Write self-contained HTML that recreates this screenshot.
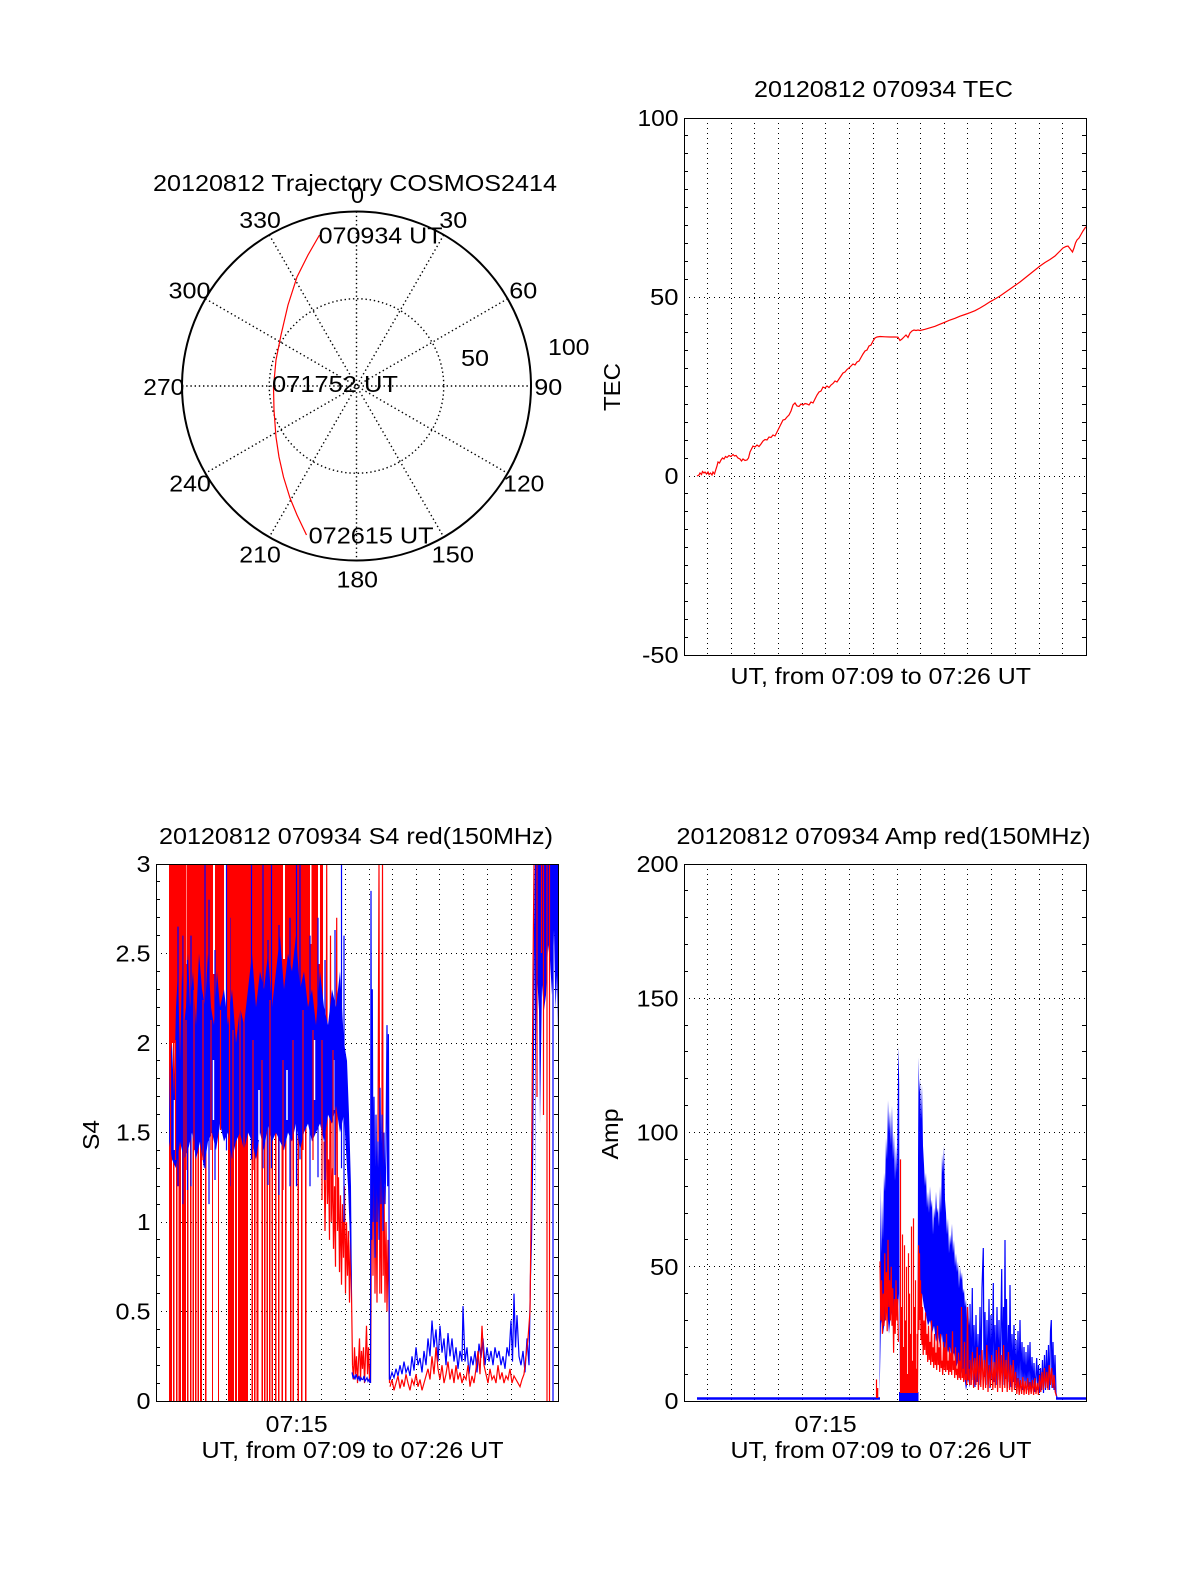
<!DOCTYPE html>
<html><head><meta charset="utf-8"><style>
html,body{margin:0;padding:0;background:#fff;}
svg{display:block}
text{font-family:"Liberation Sans",Arial,sans-serif;font-size:23px;fill:#000}
.g{stroke:#000;stroke-width:1;stroke-dasharray:1 4;fill:none}
.gp{stroke:#000;stroke-width:1.4;stroke-dasharray:1.4 2.8;fill:none}
.ax{stroke:#000;stroke-width:1;fill:none}
.r{stroke:#f00;fill:none;stroke-width:1.2;stroke-linejoin:miter}
.b{stroke:#00f;fill:none;stroke-width:1.2}
</style></head><body>
<svg width="1200" height="1575" viewBox="0 0 1200 1575" xmlns="http://www.w3.org/2000/svg">
<rect width="1200" height="1575" fill="#fff"/>
<defs>
<clipPath id="ct"><rect x="684" y="118" width="403" height="538"/></clipPath>
<clipPath id="cs"><rect x="156" y="864" width="403" height="538"/></clipPath>
<clipPath id="ca"><rect x="684" y="864" width="403" height="538"/></clipPath>
</defs>

<!-- ================= POLAR ================= -->
<text x="153" y="191" textLength="404" lengthAdjust="spacingAndGlyphs">20120812 Trajectory COSMOS2414</text>
<g class="gp">
<circle cx="356.5" cy="386" r="87.25"/>
<line x1="356.5" y1="211.5" x2="356.5" y2="560.5"/>
<line x1="182" y1="386" x2="531" y2="386"/>
<line x1="269.25" y1="234.9" x2="443.75" y2="537.1"/>
<line x1="443.75" y1="234.9" x2="269.25" y2="537.1"/>
<line x1="205.4" y1="298.75" x2="507.6" y2="473.25"/>
<line x1="507.6" y1="298.75" x2="205.4" y2="473.25"/>
</g>
<circle cx="356.5" cy="386" r="174.5" fill="none" stroke="#000" stroke-width="2"/>
<polyline class="r" stroke-width="1" points="319.5,235 308,255 297,277 288,305 281,335 276,360 273.5,387 274,410 276,437 279,457 283.5,477 290,498 297,515 306.5,535"/>
<text x="351" y="203" textLength="13" lengthAdjust="spacingAndGlyphs">0</text>
<text x="439.3" y="228" textLength="28" lengthAdjust="spacingAndGlyphs">30</text>
<text x="239.3" y="228" textLength="41.5" lengthAdjust="spacingAndGlyphs">330</text>
<text x="509.3" y="298.3" textLength="28" lengthAdjust="spacingAndGlyphs">60</text>
<text x="168.5" y="298.3" textLength="42" lengthAdjust="spacingAndGlyphs">300</text>
<text x="548" y="355" textLength="41.5" lengthAdjust="spacingAndGlyphs">100</text>
<text x="461" y="366" textLength="28" lengthAdjust="spacingAndGlyphs">50</text>
<text x="143.3" y="395" textLength="41" lengthAdjust="spacingAndGlyphs">270</text>
<text x="534.3" y="395" textLength="28" lengthAdjust="spacingAndGlyphs">90</text>
<text x="272" y="392" textLength="126" lengthAdjust="spacingAndGlyphs">071752 UT</text>
<text x="169.3" y="491.7" textLength="41.5" lengthAdjust="spacingAndGlyphs">240</text>
<text x="503.3" y="491.7" textLength="41" lengthAdjust="spacingAndGlyphs">120</text>
<text x="239.3" y="562.3" textLength="41.5" lengthAdjust="spacingAndGlyphs">210</text>
<text x="431.5" y="562.3" textLength="42.5" lengthAdjust="spacingAndGlyphs">150</text>
<text x="336.5" y="587.3" textLength="41.5" lengthAdjust="spacingAndGlyphs">180</text>
<text x="318.6" y="243.3" textLength="124" lengthAdjust="spacingAndGlyphs">070934 UT</text>
<text x="308.6" y="543.3" textLength="125" lengthAdjust="spacingAndGlyphs">072615 UT</text>

<!-- ================= TEC ================= -->
<text x="754" y="97" textLength="259" lengthAdjust="spacingAndGlyphs">20120812 070934 TEC</text>
<g class="g">
<path d="M707.5 118V655M731.5 118V655M754.5 118V655M778.5 118V655M802.5 118V655M825.5 118V655M849.5 118V655M873.5 118V655M897.5 118V655M920.5 118V655M944.5 118V655M967.5 118V655M991.5 118V655M1015.5 118V655M1039.5 118V655M1062.5 118V655"/>
<path d="M684 297.5H1086M684 476.5H1086"/>
</g>
<path class="ax" d="M684 135.5h4M684 153.5h4M684 171.5h4M684 189.5h4M684 207.5h4M684 225.5h4M684 243.5h4M684 261.5h4M684 279.5h4M684 314.5h4M684 332.5h4M684 350.5h4M684 368.5h4M684 386.5h4M684 404.5h4M684 422.5h4M684 440.5h4M684 458.5h4M684 493.5h4M684 511.5h4M684 529.5h4M684 547.5h4M684 565.5h4M684 583.5h4M684 601.5h4M684 619.5h4M684 637.5h4
M1082 135.5h4M1082 153.5h4M1082 171.5h4M1082 189.5h4M1082 207.5h4M1082 225.5h4M1082 243.5h4M1082 261.5h4M1082 279.5h4M1082 314.5h4M1082 332.5h4M1082 350.5h4M1082 368.5h4M1082 386.5h4M1082 404.5h4M1082 422.5h4M1082 440.5h4M1082 458.5h4M1082 493.5h4M1082 511.5h4M1082 529.5h4M1082 547.5h4M1082 565.5h4M1082 583.5h4M1082 601.5h4M1082 619.5h4M1082 637.5h4"/>
<g clip-path="url(#ct)">
<polyline class="r" stroke-width="1.2" points="697,476 699,475 700,473 701.5,474.5 702.5,471.5 704,473 705,472 706.5,474 708,472 709,474.5 710.5,473 712,475 713,472 714.5,474 716,469 717,466 718,462 719.5,463 721,460 722.5,458 724,459 725.5,456.5 727,457.5 729,455.5 731,456.5 733,454.5 734.5,456 736,455.5 738,458 740,459 741.5,461 743,459 745,460.5 747,460 748.5,458 750,452 751.5,449 753,446 755,447 757,445 759,446.5 761,444 763,441 765,439.5 767,440 769,437 771,437.5 773,435 775,436 777,432 779,428 781,424 783,420 785,419.5 787,417 789,415 791,411 793,405 795,403 797,406 799,406.5 801,404 803,405 805,403.5 807,404 809,405 811,402 813,403 815,399 817,395 819,392 821,391 823,387 825,388 827,386 829,387.5 831,385 833,383.5 835,381 837,382 839,379 841,376 843,373 845,372 847,369.5 849,368 851,366 853,364 855,365 857,362 859,361 861,357.5 863,354 865,351 867,350 869,346 871,345 873,341 875,338 877,337 880,336.5 885,336.8 890,337 895,337 898,337.2 900,340.5 902,339 904,337 906,335 908,337.5 910,333 912,331 914,330 916,330.5 918,330 920,330.5 925,329.3 930,327.8 935,326.3 940,324.2 945,322.2 950,320 955,318.3 960,316.2 965,314.5 970,312.7 975,310.7 980,308 985,305 990,301.8 995,299 1000,296 1005,292.5 1010,289 1015,285.5 1020,282 1025,278 1030,274 1035,270 1040,266 1045,262.5 1050,259.5 1055,256 1060,251 1063,248 1066,246.5 1068,246 1069.5,248 1071,250 1072.5,252 1074,248 1075.5,243 1077,240 1079,238 1081,234.5 1083,231 1085,228 1087,226"/>
</g>
<rect class="ax" x="684.5" y="118.5" width="402" height="537"/>
<text x="678.5" y="126" text-anchor="end" textLength="41" lengthAdjust="spacingAndGlyphs">100</text>
<text x="678.5" y="305" text-anchor="end" textLength="28.5" lengthAdjust="spacingAndGlyphs">50</text>
<text x="678.5" y="484" text-anchor="end" textLength="14" lengthAdjust="spacingAndGlyphs">0</text>
<text x="678.5" y="663" text-anchor="end" textLength="36.5" lengthAdjust="spacingAndGlyphs">-50</text>
<text x="730.5" y="684" textLength="300.5" lengthAdjust="spacingAndGlyphs">UT, from 07:09 to 07:26 UT</text>
<text transform="translate(620,387) rotate(-90)" text-anchor="middle" textLength="48" lengthAdjust="spacingAndGlyphs">TEC</text>

<!-- ================= S4 ================= -->
<text x="159" y="844" textLength="394" lengthAdjust="spacingAndGlyphs">20120812 070934 S4 red(150MHz)</text>
<g class="g">
<path d="M179.5 864V1401M203.5 864V1401M226.5 864V1401M250.5 864V1401M274.5 864V1401M297.5 864V1401M321.5 864V1401M345.5 864V1401M369.5 864V1401M392.5 864V1401M416.5 864V1401M439.5 864V1401M463.5 864V1401M487.5 864V1401M511.5 864V1401M534.5 864V1401"/>
<path d="M156 953.5H558M156 1043.5H558M156 1132.5H558M156 1222.5H558M156 1311.5H558"/>
</g>
<path class="ax" d="M156 881.5h4M156 899.5h4M156 917.5h4M156 935.5h4M156 971.5h4M156 989.5h4M156 1007.5h4M156 1025.5h4M156 1060.5h4M156 1078.5h4M156 1096.5h4M156 1114.5h4M156 1150.5h4M156 1168.5h4M156 1186.5h4M156 1204.5h4M156 1239.5h4M156 1257.5h4M156 1275.5h4M156 1293.5h4M156 1329.5h4M156 1347.5h4M156 1365.5h4M156 1383.5h4
M554 881.5h4M554 899.5h4M554 917.5h4M554 935.5h4M554 971.5h4M554 989.5h4M554 1007.5h4M554 1025.5h4M554 1060.5h4M554 1078.5h4M554 1096.5h4M554 1114.5h4M554 1150.5h4M554 1168.5h4M554 1186.5h4M554 1204.5h4M554 1239.5h4M554 1257.5h4M554 1275.5h4M554 1293.5h4M554 1329.5h4M554 1347.5h4M554 1365.5h4M554 1383.5h4"/>
<g clip-path="url(#cs)">
<!-- red upper fill -->
<g fill="#f00">
<rect x="169" y="864" width="31" height="179"/>
<rect x="202" y="864" width="22" height="179"/>
<rect x="226" y="864" width="97" height="179"/>
</g>
<g fill="#fff">
<rect x="185" y="864" width="1.5" height="100"/>
<rect x="213" y="864" width="2" height="110"/>
<rect x="257" y="864" width="1.5" height="90"/>
<rect x="283" y="864" width="2" height="95"/>
<rect x="310" y="864" width="1.5" height="80"/>
<rect x="318" y="864" width="2" height="100"/>
</g>
<!-- red full-height stripes -->
<g fill="#f00">
<rect x="169" y="864" width="3" height="537"/><rect x="173" y="864" width="1.5" height="537"/><rect x="176" y="864" width="1.5" height="537"/><rect x="178.5" y="864" width="2.5" height="537"/><rect x="182" y="864" width="4" height="537"/><rect x="187" y="864" width="1.5" height="537"/><rect x="190" y="864" width="1.5" height="537"/><rect x="192.5" y="864" width="1.5" height="537"/><rect x="195" y="864" width="1.5" height="537"/><rect x="197.5" y="864" width="1.5" height="537"/><rect x="200" y="864" width="2" height="537"/><rect x="205" y="864" width="1.5" height="537"/><rect x="212" y="864" width="1" height="537"/><rect x="218" y="864" width="1" height="537"/><rect x="228" y="864" width="6" height="537"/><rect x="235" y="864" width="2" height="537"/><rect x="238" y="864" width="10" height="537"/><rect x="251.5" y="864" width="1.5" height="537"/><rect x="254" y="864" width="1.5" height="537"/><rect x="256.5" y="864" width="2" height="537"/><rect x="261.5" y="864" width="1.5" height="537"/><rect x="264" y="864" width="1.5" height="537"/><rect x="266.5" y="864" width="1.5" height="537"/><rect x="269" y="864" width="1.5" height="537"/><rect x="271.5" y="864" width="1.5" height="537"/><rect x="275" y="864" width="1.5" height="537"/><rect x="278" y="864" width="1.5" height="537"/><rect x="281.5" y="864" width="1.5" height="537"/><rect x="285" y="864" width="1.5" height="537"/><rect x="290" y="864" width="1.5" height="537"/><rect x="292.5" y="864" width="1.5" height="537"/><rect x="297.5" y="864" width="1.5" height="537"/><rect x="301" y="864" width="1.5" height="537"/><rect x="305" y="864" width="1.5" height="537"/>
</g>
<!-- red lower-right region A -->
<polyline class="r" stroke-width="1.5" points="324,1141.5 325,1231 326,1168.3 326.7,864 327.4,1204 328.5,1159.4 329.5,1239.9 330.5,935.6 331.2,1222 332.5,1168.3 333.5,1248.9 334.5,1186.2 335.5,1266.8 336.7,917.7 337.5,1231 338.5,1177.3 339.5,1272.1 340.5,1195.2 341.5,1284.7 342.5,1204.1 343.5,1257.8 344.5,1186.2 345.5,1293.6 346.5,1222 347.5,1275.7 348.5,1231 349.5,1302.6 350.5,1239.9 351.5,1293.6 352.5,1365.2"/>
<!-- blue band -->
<polygon fill="#00f" points="169,1114.6 170,1060.9 172,1043 174,1096.7 176,1007.2 178,971.4 180,1060.9 182,971.4 184,1025.1 186,1007.2 188,953.5 190,1007.2 193,971.4 196,1025.1 199,953.5 202,989.3 205,1007.2 208,953.5 211,1007.2 214,1025.1 217,971.4 220,1007.2 224,989.3 228,1025.1 232,989.3 236,1043 240,1007.2 244,1025.1 248,989.3 252,953.5 256,1007.2 260,971.4 264,989.3 268,953.5 272,1007.2 276,971.4 280,935.6 284,989.3 288,953.5 292,971.4 296,935.6 300,989.3 304,971.4 308,1007.2 312,989.3 316,1025.1 320,971.4 324,1007.2 328,1025.1 332,989.3 336,1007.2 340,971.4 344,1043 347,1060.9 349,1114.6 351,1186.2 352,1293.6 352,1302.6 350,1239.9 348,1186.2 346,1150.4 344,1114.6 340,1132.5 336,1105.7 332,1123.6 328,1114.6 324,1141.5 320,1123.6 316,1132.5 312,1141.5 308,1123.6 304,1132.5 300,1150.4 296,1123.6 292,1141.5 288,1132.5 284,1150.4 280,1141.5 276,1132.5 272,1141.5 268,1123.6 264,1150.4 260,1132.5 256,1159.4 252,1141.5 248,1132.5 244,1150.4 240,1132.5 236,1141.5 232,1159.4 228,1132.5 224,1141.5 220,1123.6 216,1150.4 212,1132.5 208,1141.5 204,1168.3 200,1141.5 196,1159.4 192,1132.5 188,1150.4 184,1159.4 180,1141.5 176,1168.3 172,1159.4 169,1141.5"/>
<path stroke="#fff" stroke-width="1.5" d="M174.5 1100V1150M213.5 1060V1120M259 1090V1140M287 1070V1120M314.5 1040V1100M334.5 1060V1110"/>
<path class="b" stroke-width="2" d="M178 1186.2V926.6M183 1204.1V935.6M191 1186.2V935.6M205 1168.3V864M209 1204.1V899.8M226.5 1150.4V864M230 1186.2V917.7M251.5 1159.4V864M263 1168.3V864M271.5 1168.3V864M290 1186.2V917.7M296.5 1186.2V864M300 1159.4V864M310 1186.2V935.6M318 1177.3V917.7M341.5 1168.3V864M344 1222V935.6M187.5 1190V960M215 1180V950M268 1185V940M279 1195V925M325 1180V960M335 1175V930"/>
<path class="r" stroke-width="1.2" d="M170.5 864V1401M184 864V1401M229.5 864V1401M240 864V1401M244 864V1401
M175.5 1040V1160M186 1020V1170M194 990V1150M203 1000V1160M211 1020V1150M220.5 1010V1130M233 1030V1170M253 1040V1170M262 1060V1200M270 1000V1140M283 1060V1190M293 1040V1170M303 1010V1150M313 1030V1160M322 1040V1200M333 1050V1220"/>
<!-- region B -->
<polyline class="r" points="352.5,1365.2 353.5,1379.5 354.5,1347.3 355.5,1374.2 356.5,1356.3 357.5,1383.1 358.5,1361.6 359.5,1338.4 360.5,1379.5 361.5,1350.9 362.5,1368.8 363.5,1347.3 364.5,1383.1 365.5,1356.3 366.5,1325.8 367.5,1374.2 368.5,1347.3 369.5,1379.5 370.2,1365.2"/>
<polyline class="b" points="352,1372.4 353,1377.7 354,1375.9 355,1379.5 356,1374.2 357,1377.7 358,1379.5 359,1375.9 360,1381.3 361,1377.7 362,1379.5 363,1379.5 364,1375.9 365,1381.3 366,1379.5 367,1377.7 368,1381.3 369,1379.5 370,1383.1"/>
<!-- region C -->
<polyline class="r" stroke-width="1.4" points="370.5,1383 371,1311.5 372,1078.8 373,1275.7 374,1114.6 375,1293.6 376,1186.2 377,1302.6 378,1132.5 379,864 379.8,1293.6 380.5,1168.3 381.5,1293.6 382.5,864 383.2,1275.7 384,1186.2 385,1302.6 386,1222 387,1311.5 388,1239.9 389,1302.6 389.5,1383.1"/>
<polyline class="b" stroke-width="1.4" points="370.5,1383 371,890.9 371.6,1239.9 372.3,989.3 373,1222 374,1096.7 375,1257.8 376,1114.6 377,1222 378,1141.5 379,1239.9 380,1087.8 381,1204.1 382,1114.6 383,1231 384,1132.5 385,1204.1 386,1150.4 387,1025.1 387.7,1186.2 388.4,1034.1 389,1204.1 389.4,1379.5"/>
<!-- region D -->
<polyline class="b" points="389.4,1379.5 390,1379.5 392,1372.4 394,1377.7 396,1368.8 398,1375.9 400,1365.2 402,1374.2 404,1361.6 406,1372.4 408,1367 410,1375.9 412,1356.3 414,1370.6 416,1347.3 418,1365.2 420,1358 422,1372.4 424,1350.9 426,1365.2 428,1338.4 430,1356.3 432,1320.5 434,1347.3 436,1329.4 438,1361.6 440,1325.8 442,1352.7 444,1338.4 446,1365.2 448,1333 450,1356.3 452,1338.4 454,1361.6 456,1347.3 458,1368.8 460,1350.9 462,1361.6 463,1306.1 465,1361.6 467,1347.3 469,1374.2 471,1356.3 473,1365.2 475,1350.9 477,1372.4 479,1343.7 481,1358 483,1338.4 485,1365.2 487,1347.3 489,1361.6 491,1350.9 493,1365.2 495,1347.3 497,1358 499,1350.9 501,1365.2 503,1356.3 505,1368.8 507,1347.3 509,1356.3 511,1320.5 512.5,1361.6 514,1293.6 515.5,1347.3 517,1315.1 519,1356.3 521,1365.2 523,1350.9 525,1372.4 527,1338.4 529,1365.2 530.5,1275.7 531.5,1239.9 532.5,1168.3 533.5,1043 534.5,935.6 535.5,864"/>
<polyline class="r" points="390,1386.7 392,1379.5 394,1390.3 396,1383.1 398,1375.9 400,1388.5 402,1379.5 404,1386.7 406,1374.2 408,1383.1 410,1390.3 412,1379.5 414,1384.9 416,1374.2 418,1386.7 420,1379.5 422,1390.3 424,1383.1 426,1375.9 428,1368.8 430,1379.5 432,1356.3 434,1374.2 436,1347.3 438,1368.8 440,1379.5 442,1365.2 444,1383.1 446,1374.2 448,1361.6 450,1379.5 452,1368.8 454,1383.1 456,1365.2 458,1379.5 460,1372.4 462,1383.1 464,1375.9 466,1379.5 468,1365.2 470,1386.7 472,1375.9 474,1383.1 476,1368.8 478,1350.9 480,1374.2 482,1325.8 484,1365.2 486,1374.2 488,1383.1 490,1368.8 492,1379.5 494,1375.9 496,1383.1 498,1365.2 500,1379.5 502,1372.4 504,1383.1 506,1375.9 508,1379.5 510,1368.8 512,1383.1 514,1375.9 516,1379.5 518,1383.1 520,1386.7 522,1379.5 524,1374.2 526,1356.3 528,1338.4 530,1311.5 531,1222 532,1114.6 533,971.4 534,864"/>
<!-- region F -->
<polygon fill="#00f" points="535,864 559,864 559,1088 557,975 555.5,1010 554,930 552,995 550,960 548,945 546,995 544,1010 542,985 540,1124 539,1010 537,975 535.5,1079 535,1222"/>
<path class="r" stroke-width="1.5" d="M547 864V1401M549.5 864V1401M537 864V1097M541.5 864V953M543.5 864V1115"/>
<path class="b" stroke-width="1.5" d="M553 864V1401"/>
</g>
<rect class="ax" x="156.5" y="864.5" width="402" height="537"/>
<text x="150.5" y="872" text-anchor="end" textLength="14" lengthAdjust="spacingAndGlyphs">3</text>
<text x="150.5" y="961.5" text-anchor="end" textLength="35" lengthAdjust="spacingAndGlyphs">2.5</text>
<text x="150.5" y="1051" text-anchor="end" textLength="14" lengthAdjust="spacingAndGlyphs">2</text>
<text x="150.5" y="1140.5" text-anchor="end" textLength="34.5" lengthAdjust="spacingAndGlyphs">1.5</text>
<text x="150.5" y="1230" text-anchor="end" textLength="13.5" lengthAdjust="spacingAndGlyphs">1</text>
<text x="150.5" y="1319.5" text-anchor="end" textLength="35" lengthAdjust="spacingAndGlyphs">0.5</text>
<text x="150.5" y="1409" text-anchor="end" textLength="14" lengthAdjust="spacingAndGlyphs">0</text>
<text x="265.7" y="1432" textLength="62" lengthAdjust="spacingAndGlyphs">07:15</text>
<text x="201.5" y="1458" textLength="302" lengthAdjust="spacingAndGlyphs">UT, from 07:09 to 07:26 UT</text>
<text transform="translate(99,1135) rotate(-90)" text-anchor="middle" textLength="30" lengthAdjust="spacingAndGlyphs">S4</text>

<!-- ================= AMP ================= -->
<text x="676.5" y="844" textLength="414" lengthAdjust="spacingAndGlyphs">20120812 070934 Amp red(150MHz)</text>
<g class="g">
<path d="M707.5 864V1401M731.5 864V1401M754.5 864V1401M778.5 864V1401M802.5 864V1401M825.5 864V1401M849.5 864V1401M873.5 864V1401M897.5 864V1401M920.5 864V1401M944.5 864V1401M967.5 864V1401M991.5 864V1401M1015.5 864V1401M1039.5 864V1401M1062.5 864V1401"/>
<path d="M684 998.5H1086M684 1132.5H1086M684 1266.5H1086"/>
</g>
<path class="ax" d="M684 890.5h4M684 917.5h4M684 944.5h4M684 971.5h4M684 1025.5h4M684 1051.5h4M684 1078.5h4M684 1105.5h4M684 1159.5h4M684 1186.5h4M684 1213.5h4M684 1239.5h4M684 1293.5h4M684 1320.5h4M684 1347.5h4M684 1374.5h4
M1082 890.5h4M1082 917.5h4M1082 944.5h4M1082 971.5h4M1082 1025.5h4M1082 1051.5h4M1082 1078.5h4M1082 1105.5h4M1082 1159.5h4M1082 1186.5h4M1082 1213.5h4M1082 1239.5h4M1082 1293.5h4M1082 1320.5h4M1082 1347.5h4M1082 1374.5h4"/>
<g clip-path="url(#ca)">
<path d="M697 1398.5H880" stroke="#00f" stroke-width="2.4"/>
<path class="r" d="M876.5 1398V1379.5M877.7 1398V1388"/>
<!-- region 1 -->
<polygon fill="#00f" points="879.5,1395.6 880,1293.6 880.5,1186.2 881.2,1253.3 882,1199.6 883,1239.9 884,1172.8 885,1191.6 886,1137.9 887,1159.4 888,1100.3 889,1132.5 890,1111 891,1145.9 892,1105.7 893,1159.4 894,1132.5 895,1180.8 896,1145.9 897,1172.8 898,1073.4 898.6,1046.6 899.2,1084.2 899.6,1398 899,1293.6 897,1320.5 895,1307 893,1325.8 891,1312.4 889,1333.9 887,1307 885,1320.5 883,1333.9 881,1320.5 880,1374.2 879.5,1395.6"/>
<polyline class="r" points="880,1261.4 880.8,1320.5 881.6,1280.2 882.4,1333.9 883.2,1293.6 884,1325.8 884.8,1253.3 885.6,1320.5 886.4,1272.1 887.2,1331.2 888,1239.9 888.8,1307 889.6,1280.2 890.4,1320.5 891.2,1266.75 892,1325.8 892.8,1288.2 893.6,1352.7 894.4,1299 895.2,1333.9 896,1280.2 896.8,1320.5 897.6,1299 898.4,1341.9"/>
<!-- region 2 -->
<rect x="899" y="1392" width="19.5" height="9" fill="#00f"/>
<path class="r" stroke-width="1.3" d="M900.5 1393V1159.4M901.5 1393V1307M902.5 1393V1234.5M903.5 1393V1347M904.5 1393V1245.3M905.5 1393V1320.5M906.5 1393V1266.75M907.5 1393V1374M908.5 1393V1253.3M909.5 1393V1293.6M910.5 1393V1333.9M911.5 1393V1226.5M912.5 1393V1360.7M913.5 1393V1218.4M914.5 1393V1307M915.5 1393V1280.2M916.5 1393V1368.8M917.2 1393V1333.9"/>
<!-- region 3 -->
<polygon fill="#00f" points="917.5,1393 918,1159.4 918.6,1057.3 919.3,1092.2 920,1078.8 921,1119.1 922,1084.2 923,1145.9 924,1164.7 925,1186.2 926,1172.8 927,1207.7 928,1191.6 929,1213 930,1186.2 931,1207.7 932,1199.6 933,1234.5 934,1207.7 935,1218.4 936,1191.6 937,1213 938,1207.7 939,1226.5 940,1186.2 941,1213 942,1154 943,1172.8 944,1145.9 945,1199.6 946,1213 947,1234.5 948,1218.4 949,1253.3 950,1234.5 951,1245.3 952,1223.8 953,1253.3 954,1239.9 955,1266.75 956,1253.3 957,1272.1 958,1261.4 959,1288.2 960,1266.75 961,1280.2 962,1272.1 963,1293.6 964,1288.2 965,1307 966,1299 967,1320.5 968,1304.3 969,1325.8 970,1309.7 970,1387.6 968,1379.5 966,1390.3 964,1374.2 962,1368.8 960,1379.5 958,1360.7 956,1368.8 954,1352.7 952,1360.7 950,1347.3 948,1352.7 946,1341.9 944,1360.7 942,1333.9 940,1347.3 938,1333.9 936,1341.9 934,1325.8 932,1333.9 930,1320.5 928,1325.8 926,1315.1 924,1307 922,1293.6 920,1299 918.5,1293.6 917.5,1393"/>
<polyline class="r" stroke-width="1.1" points="917.5,1393 918.5,1245.3 919,1330 919.5,1253.3 920,1320 920.5,1280.2 921,1340 921.5,1293.6 922,1345 922.5,1307 923.2,1355 924,1320.5 924.7,1350 925.5,1312.4 926.2,1355 927,1333.9 927.7,1362 928.5,1325.8 929.2,1360 930,1341.9 930.7,1365 931.5,1320.5 932.2,1362 933,1347.3 933.7,1368 934.5,1333.9 935.2,1365 936,1352.7 936.7,1370 937.5,1325.8 938.2,1365 939,1347.3 939.7,1372 940.5,1333.9 941.2,1368 942,1360.7 942.7,1375 943.5,1341.9 944.2,1370 945,1347.3 945.7,1372 946.5,1333.9 947.2,1370 948,1360.7 948.7,1375 949.5,1347.3 950.2,1372 951,1352.7 951.7,1375 952.5,1331.2 953.2,1370 954,1360.7 954.7,1378 955.5,1347.3 956.2,1375 957,1368.8 957.7,1380 958.5,1352.7 959.2,1378 960,1360.7 960.7,1380 961.5,1307 962.2,1378 963,1368.8 963.7,1382 964.5,1341.9 965.2,1380 966,1374.2 966.7,1385 967.5,1307 968.2,1380 969,1368.8 969.7,1385"/>
<!-- region 4 -->
<polyline class="b" stroke-width="1.2" points="970,1304 971,1385 972.3,1288 973,1380 974,1325 975,1387 976,1315 977,1382 978,1334 979,1385 980,1307 981,1380 982,1288 983.3,1248 984,1377 985,1312 986,1385 987,1320 988,1382 989,1299 990,1388 991,1315 992,1379 993.3,1283 994,1382 995,1325 996,1385 997,1307 998,1380 999,1320 1000,1385 1001.7,1269 1002.5,1382 1003.5,1307 1004.3,1385 1005,1240 1005.7,1379 1006.5,1299 1007.5,1388 1008.5,1325 1009.3,1382 1010,1285 1011,1387 1012,1334 1013,1382 1014,1325 1015,1388 1016,1340 1017,1385 1018,1331 1019,1390 1020,1320 1021,1385 1022,1342 1023,1390 1024,1347 1025,1388 1026,1352 1027,1390 1028,1345 1029,1387 1030,1342 1031,1392 1032,1357 1033,1388 1034,1363 1035,1392 1036.7,1358 1037.5,1390 1038.5,1365 1039.5,1393 1040.5,1368 1041.5,1390 1042.5,1360 1043.5,1393 1044.5,1355 1045.5,1390 1046.5,1350 1047.5,1388 1048.5,1345 1049.5,1390 1050.5,1331 1051.3,1320 1052,1388 1053,1342 1054,1390 1055,1355 1056,1393 1057,1398"/>
<polyline class="r" stroke-width="1.1" points="970,1360 971.2,1385 972.4,1352 973.6,1388 974.8,1358 976,1385 977.2,1347 978.4,1390 979.6,1355 980.8,1387 982,1350 983.2,1390 984.4,1360 985.6,1388 986.8,1345 988,1392 989.2,1365 990.4,1387 991.6,1355 992.8,1390 994,1362 995.2,1388 996.4,1350 997.6,1392 998.8,1347 1000,1388 1001.2,1355 1002.4,1392 1003.6,1345 1004.8,1388 1006,1360 1007.2,1392 1008.4,1352 1009.6,1390 1010.8,1365 1012,1392 1013.2,1360 1014.4,1390 1015.6,1372 1016.8,1394 1018,1378 1019.2,1395 1020.4,1380 1021.6,1394 1022.8,1377 1024,1395 1025.2,1381 1026.4,1394 1027.6,1378 1028.8,1395 1030,1382 1031.2,1394 1032.4,1380 1033.6,1395 1034.8,1378 1036,1394 1037.2,1383 1038.4,1395 1039.6,1375 1040.8,1392 1042,1372 1043.2,1390 1044.4,1368 1045.6,1388 1046.8,1372 1048,1390 1049.2,1365 1050.4,1385 1051.6,1368 1052.8,1388 1054,1375 1055.2,1392 1056.4,1396"/>
<path d="M1056 1398.5H1087" stroke="#00f" stroke-width="2.4"/>
</g>
<rect class="ax" x="684.5" y="864.5" width="402" height="537"/>
<text x="678.5" y="872" text-anchor="end" textLength="42" lengthAdjust="spacingAndGlyphs">200</text>
<text x="678.5" y="1006.3" text-anchor="end" textLength="42" lengthAdjust="spacingAndGlyphs">150</text>
<text x="678.5" y="1140.5" text-anchor="end" textLength="42" lengthAdjust="spacingAndGlyphs">100</text>
<text x="678.5" y="1274.8" text-anchor="end" textLength="28.5" lengthAdjust="spacingAndGlyphs">50</text>
<text x="678.5" y="1409" text-anchor="end" textLength="14" lengthAdjust="spacingAndGlyphs">0</text>
<text x="794.7" y="1432" textLength="62" lengthAdjust="spacingAndGlyphs">07:15</text>
<text x="730.5" y="1458" textLength="301" lengthAdjust="spacingAndGlyphs">UT, from 07:09 to 07:26 UT</text>
<text transform="translate(618,1134) rotate(-90)" text-anchor="middle" textLength="51" lengthAdjust="spacingAndGlyphs">Amp</text>
</svg>
</body></html>
